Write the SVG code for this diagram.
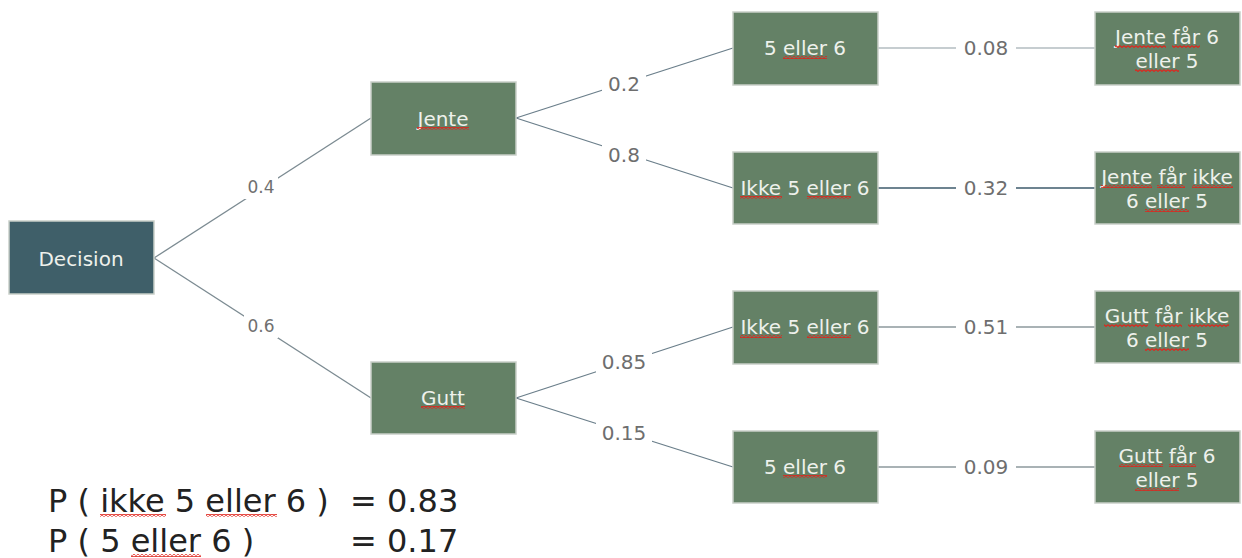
<svg xmlns="http://www.w3.org/2000/svg" width="1242" height="558" viewBox="0 0 1242 558">
  <defs>
    <!-- wavy red mark used under flagged words -->
    <pattern id="wave" patternUnits="userSpaceOnUse" width="4" height="3">
      <path d="M0,0.6 L2,2.4 L4,0.6" stroke="#e0241c" stroke-width="1.2" fill="none"/>
    </pattern>
  </defs>
  <style>
    .box { fill: #648166; stroke: #c9cfc9; stroke-width: 1.5; }
    .root { fill: #3f5f69; stroke: #c9cfc9; stroke-width: 1.5; }
    .lbl { font-family: "DejaVu Sans", Verdana, sans-serif; font-size: 20px; fill: #eef1ec; text-anchor: middle; }
    .edge { stroke: #7c8b92; stroke-width: 1.3; fill: none; }
    .prob { font-family: "DejaVu Sans", Verdana, sans-serif; font-size: 20px; fill: #6e6e6e; text-anchor: middle; }
    .probS { font-family: "DejaVu Sans", Verdana, sans-serif; font-size: 17px; fill: #707070; text-anchor: middle; }
    .pad { fill: #ffffff; }
    .sq { fill: url(#wave); }
    .eq { font-family: "DejaVu Sans", Verdana, sans-serif; font-size: 32px; fill: #222222; }
  </style>

  <!-- connectors -->
  <g id="connectors">
    <line class="edge" x1="154" y1="258" x2="371" y2="118"/>
    <line class="edge" x1="154" y1="258" x2="371" y2="398"/>
    <line class="edge" x1="516" y1="118" x2="733" y2="48" style="stroke:#6a7e8a"/>
    <line class="edge" x1="516" y1="118" x2="733" y2="188" style="stroke:#6a7e8a"/>
    <line class="edge" x1="516" y1="398" x2="733" y2="327" style="stroke:#6a7e8a"/>
    <line class="edge" x1="516" y1="398" x2="733" y2="467" style="stroke:#6a7e8a"/>
    <line class="edge" x1="878" y1="48" x2="1095" y2="48" style="stroke:#b3bcc0"/>
    <line class="edge" x1="878" y1="188" x2="1095" y2="188" style="stroke:#3d5a6b"/>
    <line class="edge" x1="878" y1="327" x2="1095" y2="327" style="stroke:#8d989d"/>
    <line class="edge" x1="878" y1="467" x2="1095" y2="467" style="stroke:#8d989d"/>

    <!-- probability labels on a white pad that breaks the line -->
    <rect class="pad" x="244" y="175" width="34" height="24"/>
    <text class="probS" x="261" y="193">0.4</text>
    <rect class="pad" x="244" y="314" width="34" height="24"/>
    <text class="probS" x="261" y="332">0.6</text>

    <rect class="pad" x="602" y="70" width="44" height="28"/>
    <text class="prob" x="624" y="91">0.2</text>
    <rect class="pad" x="602" y="141" width="44" height="28"/>
    <text class="prob" x="624" y="162">0.8</text>
    <rect class="pad" x="596" y="348" width="56" height="28"/>
    <text class="prob" x="624" y="369">0.85</text>
    <rect class="pad" x="596" y="419" width="56" height="28"/>
    <text class="prob" x="624" y="440">0.15</text>

    <rect class="pad" x="956" y="34" width="60" height="28"/>
    <text class="prob" x="986" y="55">0.08</text>
    <rect class="pad" x="956" y="174" width="60" height="28"/>
    <text class="prob" x="986" y="195">0.32</text>
    <rect class="pad" x="956" y="313" width="60" height="28"/>
    <text class="prob" x="986" y="334">0.51</text>
    <rect class="pad" x="956" y="453" width="60" height="28"/>
    <text class="prob" x="986" y="474">0.09</text>
  </g>

  <!-- root -->
  <g id="decision">
    <rect class="root" x="9" y="221" width="145" height="73"/>
    <text class="lbl" x="81" y="266">Decision</text>
  </g>

  <!-- first split -->
  <g id="jente">
    <rect class="box" x="371" y="82" width="145" height="73"/>
    <text class="lbl" x="443" y="126">Jente</text>
    <rect class="sq" x="417" y="127" width="52" height="3"/>
  </g>
  <g id="gutt">
    <rect class="box" x="371" y="362" width="145" height="72"/>
    <text class="lbl" x="443" y="405">Gutt</text>
    <rect class="sq" x="421" y="406" width="44" height="3"/>
  </g>

  <!-- second split -->
  <g id="jente-5-6">
    <rect class="box" x="733" y="12" width="145" height="73"/>
    <text class="lbl" x="805" y="55">5 eller 6</text>
    <rect class="sq" x="783" y="56" width="44" height="3"/>
  </g>
  <g id="jente-ikke">
    <rect class="box" x="733" y="152" width="145" height="72"/>
    <text class="lbl" x="805" y="195">Ikke 5 eller 6</text>
    <rect class="sq" x="740" y="196" width="42" height="3"/>
    <rect class="sq" x="807" y="196" width="44" height="3"/>
  </g>
  <g id="gutt-ikke">
    <rect class="box" x="733" y="291" width="145" height="73"/>
    <text class="lbl" x="805" y="334">Ikke 5 eller 6</text>
    <rect class="sq" x="740" y="335" width="42" height="3"/>
    <rect class="sq" x="807" y="335" width="44" height="3"/>
  </g>
  <g id="gutt-5-6">
    <rect class="box" x="733" y="431" width="145" height="72"/>
    <text class="lbl" x="805" y="474">5 eller 6</text>
    <rect class="sq" x="783" y="475" width="44" height="3"/>
  </g>

  <!-- outcomes -->
  <g id="utfall-1">
    <rect class="box" x="1095" y="12" width="145" height="73"/>
    <text class="lbl" x="1167" y="44">Jente får 6</text>
    <text class="lbl" x="1167" y="68">eller 5</text>
    <rect class="sq" x="1115" y="45" width="51" height="3"/>
    <rect class="sq" x="1172" y="45" width="28" height="3"/>
    <rect class="sq" x="1135" y="69" width="44" height="3"/>
  </g>
  <g id="utfall-2">
    <rect class="box" x="1095" y="152" width="145" height="72"/>
    <text class="lbl" x="1167" y="184">Jente får ikke</text>
    <text class="lbl" x="1167" y="208">6 eller 5</text>
    <rect class="sq" x="1101" y="185" width="51" height="3"/>
    <rect class="sq" x="1157" y="185" width="28" height="3"/>
    <rect class="sq" x="1192" y="185" width="41" height="3"/>
    <rect class="sq" x="1145" y="209" width="44" height="3"/>
  </g>
  <g id="utfall-3">
    <rect class="box" x="1095" y="291" width="145" height="72"/>
    <text class="lbl" x="1167" y="323">Gutt får ikke</text>
    <text class="lbl" x="1167" y="347">6 eller 5</text>
    <rect class="sq" x="1104" y="324" width="44" height="3"/>
    <rect class="sq" x="1155" y="324" width="27" height="3"/>
    <rect class="sq" x="1188" y="324" width="41" height="3"/>
    <rect class="sq" x="1145" y="348" width="44" height="3"/>
  </g>
  <g id="utfall-4">
    <rect class="box" x="1095" y="431" width="145" height="72"/>
    <text class="lbl" x="1167" y="463">Gutt får 6</text>
    <text class="lbl" x="1167" y="487">eller 5</text>
    <rect class="sq" x="1119" y="464" width="44" height="3"/>
    <rect class="sq" x="1169" y="464" width="27" height="3"/>
    <rect class="sq" x="1135" y="488" width="44" height="3"/>
  </g>

  <!-- summary -->
  <g id="summary">
    <text class="eq" x="48" y="512">P ( ikke 5 eller 6 )</text>
    <text class="eq" x="350" y="512">= 0.83</text>
    <text class="eq" x="48" y="552">P ( 5 eller 6 )</text>
    <text class="eq" x="350" y="552">= 0.17</text>
    <rect class="sq" x="100" y="514" width="66" height="3"/>
    <rect class="sq" x="206" y="514" width="71" height="3"/>
    <rect class="sq" x="131" y="554" width="70" height="3"/>
  </g>
</svg>
